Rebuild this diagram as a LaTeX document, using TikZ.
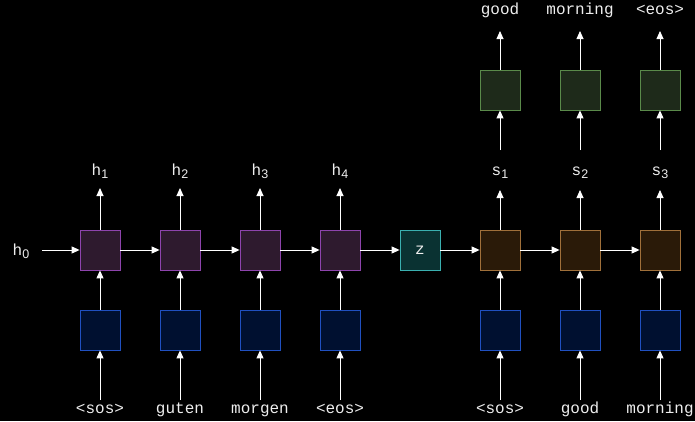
\documentclass[tikz,border=0pt]{standalone}
\usepackage{fontspec}
\setmonofont{Liberation Mono}
\newfontfamily\subfont{Liberation Sans}
\usetikzlibrary{arrows.meta}
\definecolor{txt}{HTML}{EEEEEE}
\definecolor{encfill}{HTML}{2E1A2E}\definecolor{encdraw}{HTML}{8E44AD}
\definecolor{zfill}{HTML}{0A3232}\definecolor{zdraw}{HTML}{3AB0B0}
\definecolor{decfill}{HTML}{2A1A08}\definecolor{decdraw}{HTML}{A0703A}
\definecolor{outfill}{HTML}{1E2A1A}\definecolor{outdraw}{HTML}{5A8A4A}
\definecolor{embfill}{HTML}{001030}\definecolor{embdraw}{HTML}{2050C0}
\newcommand{\sub}[2]{#1\raisebox{-0.4ex}{\fontsize{12.5}{12.5}\subfont #2}}
\tikzset{
  cell/.style={minimum width=40pt,minimum height=40pt,inner sep=0pt,line width=0.8pt},
  enc/.style={cell,fill=encfill,draw=encdraw},
  zbox/.style={cell,fill=zfill,draw=zdraw,text=txt,font=\fontsize{16}{16}\ttfamily},
  dec/.style={cell,fill=decfill,draw=decdraw},
  outb/.style={cell,fill=outfill,draw=outdraw},
  emb/.style={cell,fill=embfill,draw=embdraw},
  lbl/.style={text=txt,font=\fontsize{16}{16}\ttfamily,inner sep=0pt},
  arr/.style={draw=white,line width=0.9pt,-{Triangle[width=7pt,length=8pt]}},
}
\begin{document}
\begin{tikzpicture}[x=1pt,y=-1pt]
\fill[black] (0,0) rectangle (695,421);
\useasboundingbox (0,0) rectangle (695,421);
% encoder
\foreach \i/\x/\w in {1/100/<sos>,2/180/guten,3/260/morgen,4/340/<eos>}{
  \node[enc] (e\i) at (\x,250) {};
  \node[emb] (b\i) at (\x,330) {};
  \node[lbl,anchor=base] (w\i) at (\x,413) {\w};
  \coordinate (ws\i) at (\x,400);
  \node[lbl,anchor=base] (h\i) at (\x,175) {\sub{h}{\i}};
  \coordinate (ht\i) at (\x,188);
  \draw[arr] (ws\i) -- (b\i.south);
  \draw[arr] (b\i.north) -- (e\i.south);
  \draw[arr] (e\i.north) -- (ht\i);
}
\node[zbox] (z) at (420,250) {z};
% decoder
\foreach \i/\x/\w/\o in {1/500/<sos>/good,2/580/good/morning,3/660/morning/<eos>}{
  \node[dec] (d\i) at (\x,250) {};
  \node[emb] (c\i) at (\x,330) {};
  \node[outb] (o\i) at (\x,90) {};
  \node[lbl,anchor=base] (v\i) at (\x,413) {\w};
  \coordinate (vs\i) at (\x,400);
  \node[lbl,anchor=base] (s\i) at (\x,175) {\sub{s}{\i}};
  \coordinate (st\i) at (\x,190);
  \coordinate (sb\i) at (\x,150);
  \node[lbl,anchor=base] (t\i) at (\x,14) {\o};
  \coordinate (tt\i) at (\x,31);
  \draw[arr] (vs\i) -- (c\i.south);
  \draw[arr] (c\i.north) -- (d\i.south);
  \draw[arr] (d\i.north) -- (st\i);
  \draw[arr] (sb\i) -- (o\i.south);
  \draw[arr] (o\i.north) -- (tt\i);
}
\node[lbl,anchor=base] (h0) at (21,255) {\sub{h}{0}};
\coordinate (h0e) at (42,250);
\draw[arr] (h0e) -- (e1.west);
\draw[arr] (e1) -- (e2);
\draw[arr] (e2) -- (e3);
\draw[arr] (e3) -- (e4);
\draw[arr] (e4) -- (z);
\draw[arr] (z) -- (d1);
\draw[arr] (d1) -- (d2);
\draw[arr] (d2) -- (d3);
\end{tikzpicture}
\end{document}
